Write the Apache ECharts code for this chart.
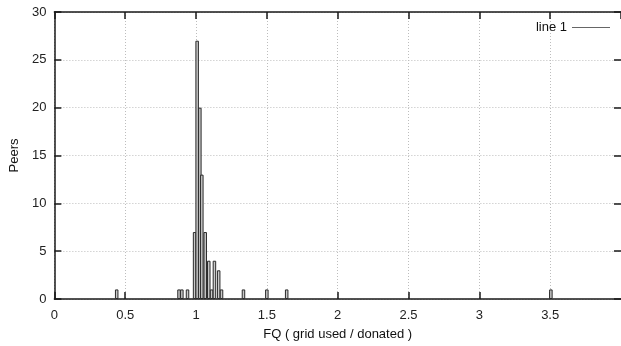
<!DOCTYPE html>
<html>
<head>
<meta charset="utf-8">
<script src="https://cdn.jsdelivr.net/npm/echarts@6/dist/echarts.min.js"></script>
<style>
html,body{margin:0;padding:0;background:#fff;}
#c{width:621px;height:346px;}
</style>
</head>
<body>
<div id="c"></div>
<script>
// FQ bin positions and peer counts
const fq    = [0.44, 0.88, 0.90, 0.94, 0.99, 1.008, 1.027, 1.041, 1.065, 1.09, 1.11, 1.13, 1.16, 1.18, 1.335, 1.5, 1.64, 3.505];
const peers = [1,    1,    1,    1,    7,    27,    20,    13,    7,     4,    1,    4,    3,    1,    1,     1,   1,    1];
const seriesName = 'line 1';
const xTitle = 'FQ ( grid used / donated )';
const yTitle = 'Peers';
const xMin = 0, xMax = 4, xStep = 0.5;
const yMin = 0, yMax = 30, yStep = 5;

const font = 'Liberation Sans, Arial, Helvetica, sans-serif';
const axisCol = '#1a1a1a';
const gridCol = '#bdbdbd';
const fs = 13;

const data = fq.map((x, i) => [x, peers[i]]);

const chart = echarts.init(document.getElementById('c'), null, {renderer: 'canvas'});

const baseX = {
  type: 'value', min: xMin, max: xMax, interval: xStep,
  axisLine: {show: true, onZero: false, lineStyle: {color: axisCol, width: 1.5}},
  axisTick: {show: true, inside: true, length: 7, lineStyle: {color: axisCol, width: 1.5}},
  splitLine: {show: false}
};
const baseY = {
  type: 'value', min: yMin, max: yMax, interval: yStep,
  axisLine: {show: true, onZero: false, lineStyle: {color: axisCol, width: 1.5}},
  axisTick: {show: true, inside: true, length: 7, lineStyle: {color: axisCol, width: 1.5}},
  splitLine: {show: false}
};

chart.setOption({
  animation: false,
  backgroundColor: '#fff',
  textStyle: {fontFamily: font},
  grid: {left: 52, right: -4.3, top: 12, bottom: 44, containLabel: false},
  legend: {
    show: true,
    right: 6, top: 16,
    align: 'right',
    itemWidth: 38, itemHeight: 1, itemGap: 6,
    textStyle: {fontFamily: font, fontSize: fs, color: '#111', padding: [0, 0, 0, 0]},
    data: [{name: seriesName, icon: 'rect', itemStyle: {color: '#666', borderWidth: 0}}]
  },
  xAxis: [
    Object.assign({}, baseX, {
      position: 'bottom',
      name: xTitle, nameLocation: 'middle', nameGap: 29,
      nameTextStyle: {fontFamily: font, fontSize: fs, color: '#111'},
      axisLabel: {show: true, fontFamily: font, fontSize: fs, color: '#222', margin: 10, showMaxLabel: false},
      splitLine: {show: true, lineStyle: {color: gridCol, type: [1, 2], width: 1}}
    }),
    Object.assign({}, baseX, {
      position: 'top',
      axisLabel: {show: false}
    })
  ],
  yAxis: [
    Object.assign({}, baseY, {
      position: 'left',
      name: yTitle, nameLocation: 'middle', nameGap: 31, nameRotate: 90,
      nameTextStyle: {fontFamily: font, fontSize: fs, color: '#111'},
      axisLabel: {show: true, fontFamily: font, fontSize: fs, color: '#222', margin: 8},
      splitLine: {show: true, lineStyle: {color: gridCol, type: [1, 2], width: 1}}
    }),
    Object.assign({}, baseY, {
      position: 'right',
      axisLine: {show: false, onZero: false},
      axisLabel: {show: false}
    })
  ],
  series: [{
    name: seriesName,
    type: 'bar',
    xAxisIndex: 0, yAxisIndex: 0,
    barWidth: 3.5,
    data: data,
    itemStyle: {color: '#c8c8c8', borderColor: '#2a2a2a', borderWidth: 1},
    emphasis: {disabled: true}
  }]
});
</script>
</body>
</html>
